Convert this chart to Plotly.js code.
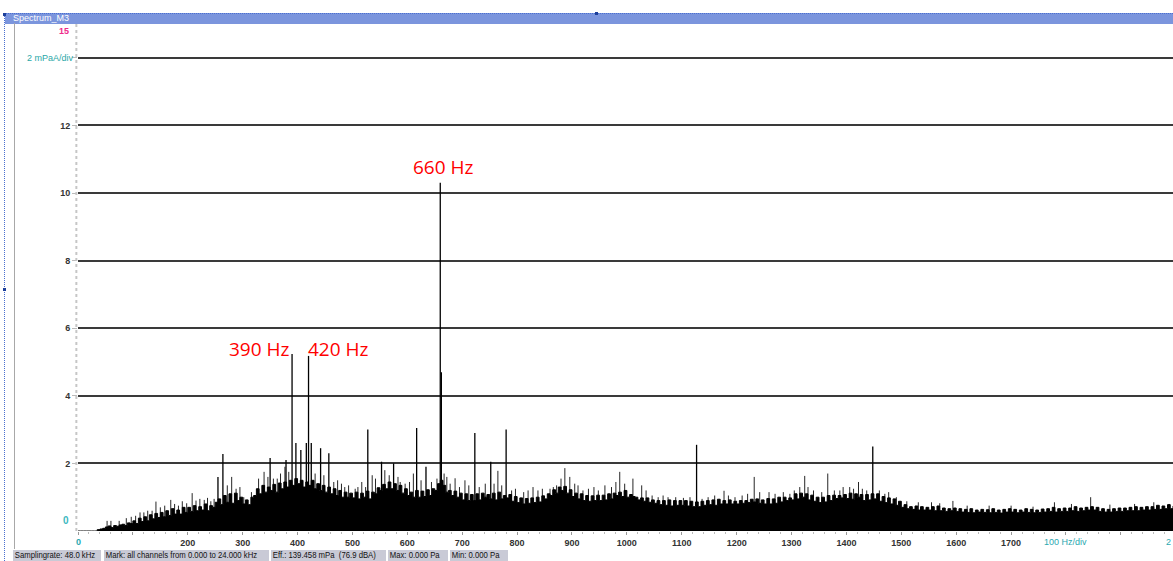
<!DOCTYPE html>
<html>
<head>
<meta charset="utf-8">
<script src="https://cdn.plot.ly/plotly-3.0.1.min.js"></script>
<style>
  html, body { margin: 0; padding: 0; background: #fff; width: 1173px; height: 561px; overflow: hidden; font-family: "Liberation Sans", Arial, sans-serif; }
  #chart { position: absolute; left: 0; top: 0; width: 1173px; height: 561px; }
  #hdr { position: absolute; left: 5px; top: 13px; width: 1168px; height: 10px; background: #7b95dd; border-top: 1px dotted #4a6fd0; }
  #hdr span { position: absolute; left: 8px; top: -1px; font-size: 9px; color: #fff; line-height: 11px; }
  #ldot { position: absolute; left: 4px; top: 13px; width: 0; height: 548px; border-left: 1px dotted #4a6fd0; }
  #lgray { position: absolute; left: 14px; top: 23px; width: 1px; height: 526px; background: #a8a8a8; }
  .sq { position: absolute; width: 3px; height: 3px; background: #1d3f9a; }
  .sb { position: absolute; top: 550px; height: 11px; background: #c9cad6; font-size: 9px; line-height: 11px; color: #111; white-space: nowrap; overflow: hidden; }
  .sb span { display: inline-block; transform: scaleX(0.86); transform-origin: 0 0; padding-left: 2px; }
</style>
</head>
<body>
<div id="chart"></div>
<div id="ldot"></div>
<div id="hdr"><span>Spectrum_M3</span></div>
<div id="lgray"></div>
<div class="sq" style="left:3px;top:13px"></div>
<div class="sq" style="left:595px;top:12px"></div>
<div class="sq" style="left:3px;top:288px"></div>
<div class="sb" style="left:13px;width:88px"><span>Samplingrate: 48.0 kHz</span></div>
<div class="sb" style="left:104px;width:165px"><span>Mark: all channels from 0.000 to 24.000 kHz</span></div>
<div class="sb" style="left:271px;width:115px"><span>Eff.: 139.458 mPa&nbsp; (76.9 dBA)</span></div>
<div class="sb" style="left:388px;width:60px"><span>Max: 0.000 Pa</span></div>
<div class="sb" style="left:450px;width:58px"><span>Min: 0.000 Pa</span></div>
<script>
// Broadband spectrum level (mPa), one value per 5 Hz bin starting at 0 Hz
const binHz = 5;
const spectrum = [
  0, 0, 0, 0, 0, 0, 0, 0.04, 0.06, 0.08,
  0.12, 0.15, 0.1, 0.16, 0.14, 0.18, 0.2, 0.16, 0.24, 0.22,
  0.3, 0.22, 0.38, 0.28, 0.42, 0.3, 0.48, 0.36, 0.52, 0.4,
  0.55, 0.42, 0.6, 0.46, 0.66, 0.5, 0.62, 0.5, 0.7, 0.55,
  0.7, 0.58, 0.75, 0.6, 0.72, 0.62, 0.8, 0.6, 0.75, 0.7,
  0.85, 0.95, 0.78, 1.05, 0.85, 1.1, 0.82, 1.12, 0.9, 1.0,
  0.8, 0.92, 0.78, 1.0, 1.05, 1.25, 1.1, 1.35, 1.15, 1.3,
  1.2, 1.38, 1.15, 1.42, 1.25, 1.45, 1.3, 1.5, 1.35, 1.55,
  1.4, 1.5, 1.3, 1.45, 1.35, 1.5, 1.25, 1.4, 1.2, 1.35,
  1.15, 1.3, 1.1, 1.25, 1.05, 1.2, 1.0, 1.15, 1.0, 1.12,
  0.98, 1.15, 0.95, 1.12, 1.0, 1.18, 0.95, 1.15, 1.1, 1.28,
  1.2, 1.38, 1.25, 1.45, 1.25, 1.4, 1.2, 1.35, 1.12, 1.25,
  1.05, 1.15, 1.0, 1.2, 1.0, 1.18, 1.02, 1.22, 1.05, 1.25,
  1.2, 1.4, 1.5, 1.35, 1.15, 1.2, 1.05, 1.18, 1.0, 1.12,
  0.92, 1.1, 0.9, 1.08, 0.9, 1.1, 0.92, 1.12, 1.0, 1.08,
  0.95, 1.12, 0.92, 1.15, 0.95, 1.05, 0.98, 1.08, 0.88, 1.02,
  0.84, 0.98, 0.8, 0.96, 0.82, 0.98, 0.84, 1.0, 0.86, 1.04,
  0.95, 1.1, 1.05, 1.22, 1.12, 1.3, 1.2, 1.32, 1.12, 1.22,
  1.02, 1.12, 0.95, 1.1, 0.9, 1.05, 0.88, 1.04, 0.9, 1.06,
  0.9, 1.06, 0.92, 1.1, 0.95, 1.12, 1.05, 1.15, 1.02, 1.2,
  1.0, 1.08, 1.02, 1.0, 0.92, 0.98, 0.88, 0.98, 0.85, 0.92,
  0.82, 0.9, 0.78, 0.9, 0.76, 0.92, 0.74, 0.9, 0.76, 0.9,
  0.76, 0.9, 0.74, 0.88, 0.72, 0.86, 0.72, 0.88, 0.76, 0.9,
  0.78, 0.92, 0.76, 0.94, 0.8, 0.9, 0.8, 0.92, 0.8, 0.88,
  0.8, 0.9, 0.82, 0.9, 0.84, 0.94, 0.86, 0.95, 0.82, 0.92,
  0.8, 0.96, 0.8, 0.95, 0.82, 1.0, 0.86, 1.0, 0.9, 0.98,
  0.92, 1.1, 0.95, 1.12, 1.0, 1.1, 0.92, 1.06, 0.88, 1.0,
  0.84, 1.0, 0.86, 1.05, 0.9, 1.06, 0.96, 1.05, 0.98, 1.08,
  0.96, 1.12, 0.94, 1.1, 1.0, 1.08, 0.9, 1.08, 0.92, 1.1,
  0.95, 1.1, 0.88, 1.02, 0.84, 0.98, 0.8, 0.95, 0.76, 0.88,
  0.7, 0.78, 0.66, 0.72, 0.64, 0.74, 0.62, 0.72, 0.62, 0.7,
  0.62, 0.72, 0.6, 0.74, 0.6, 0.68, 0.58, 0.66, 0.6, 0.68,
  0.58, 0.66, 0.56, 0.64, 0.55, 0.66, 0.54, 0.62, 0.56, 0.64,
  0.55, 0.63, 0.54, 0.66, 0.55, 0.62, 0.53, 0.64, 0.56, 0.66,
  0.56, 0.64, 0.54, 0.62, 0.56, 0.66, 0.55, 0.64, 0.54, 0.62,
  0.55, 0.65, 0.56, 0.66, 0.58, 0.7, 0.56, 0.66, 0.58, 0.68,
  0.58, 0.68, 0.6, 0.72, 0.58, 0.68, 0.6, 0.7, 0.62, 0.72,
  0.62, 0.7, 0.58, 0.66, 0.56, 0.64, 0.56, 0.66, 0.58, 0.68,
  0.58, 0.68, 0.6, 0.7, 0.6, 0.72, 0.6, 0.7, 0.62, 0.72,
  0.62, 0.72, 0.64, 0.76, 0.64, 0.74, 0.66, 0.78, 0.66, 0.74
];
// Small narrow-band spikes (Hz, mPa)
const grassFreq = [53, 60, 75, 88, 97, 105, 113, 120, 127, 135, 142, 150, 158, 169, 176, 183, 190, 198,
  208, 215, 222, 230, 236, 242, 248, 272, 280, 288, 295, 302, 316, 329, 339, 346, 356, 363, 369, 377, 384,
  432, 448, 466, 473, 480, 486, 493, 505, 510, 517, 524, 536, 542, 559, 567, 583, 587, 596, 604, 611, 625,
  644, 654, 667, 672, 678, 687, 695, 705, 712, 731, 742, 758, 765, 772, 790, 797, 812, 820, 829, 838, 846,
  860, 866, 872, 880, 887, 896, 905, 911, 920, 930, 940, 948, 960, 972, 980, 987, 996, 1011, 1027, 1035,
  1046, 1057, 1066, 1075, 1089, 1103, 1115, 1137, 1148, 1160, 1177, 1185, 1197, 1210, 1220, 1232, 1242,
  1259, 1270, 1285, 1297, 1305, 1315, 1324, 1330, 1340, 1355, 1366, 1378, 1388, 1394, 1406, 1413, 1422,
  1429, 1437, 1460, 1470, 1477, 1491, 1510, 1531, 1555, 1570, 1594, 1620, 1660, 1700, 1740, 1779, 1810,
  1845, 1880, 1925, 1960, 1988];
const grassVal = [0.3, 0.3, 0.3, 0.38, 0.42, 0.45, 0.55, 0.55, 0.6, 0.6, 0.87, 0.7, 0.75, 0.92, 0.8, 0.75, 0.88, 0.82,
  1.12, 0.9, 0.95, 0.92, 0.98, 0.88, 0.95, 1.35, 1.6, 1.25, 1.3, 1.0, 1.15, 1.55, 1.75, 1.6, 1.55, 1.55, 1.7, 1.9, 1.75,
  1.7, 1.65, 1.45, 1.5, 1.4, 1.3, 1.35, 1.25, 1.3, 1.45, 1.3, 1.65, 1.55, 1.8, 1.65, 1.6, 1.45, 1.4, 1.45, 1.7, 1.5,
  1.45, 1.55, 1.7, 1.6, 1.4, 1.56, 1.3, 1.5, 1.35, 1.3, 1.4, 1.4, 1.78, 1.35, 1.2, 1.25, 1.15, 1.2, 1.3, 1.2, 1.25,
  1.25, 1.3, 1.35, 1.55, 1.86, 1.6, 1.4, 1.35, 1.2, 1.25, 1.3, 1.2, 1.35, 1.3, 1.45, 1.75, 1.4, 1.55, 1.35, 1.2,
  1.05, 1.0, 1.05, 1.0, 1.0, 0.98, 1.0, 0.95, 1.0, 1.05, 1.19, 1.05, 1.0, 1.05, 1.1, 1.6, 1.15,
  1.15, 1.1, 1.15, 1.1, 1.2, 1.3, 1.63, 1.3, 1.2, 1.15, 1.7, 1.2, 1.2, 1.3, 1.3, 1.25, 1.45,
  1.25, 1.2, 1.2, 1.1, 1.15, 1.0, 0.88, 0.85, 0.85, 0.82, 0.89, 0.75, 0.75, 0.75, 0.72, 0.85, 0.8,
  1.0, 0.78, 0.8, 0.85, 0.8];
// Tonal peaks (Hz, mPa)
const peakFreq = [255, 264, 350, 379, 390, 397, 406, 416, 420, 425, 442, 457, 528, 553, 575, 617, 634, 660, 662, 723, 752, 780, 1127, 1448];
const peakVal  = [1.6, 2.28, 2.16, 2.1, 5.24, 2.6, 2.4, 2.6, 5.18, 2.6, 2.45, 2.3, 3.0, 2.05, 2.0, 3.05, 1.9, 10.3, 4.7, 2.9, 2.05, 3.0, 2.55, 2.5];
// Annotated peaks
const labelText = ['660 Hz', '390 Hz', '420 Hz'];
// Axis ticks
const yTickVals = [2, 4, 6, 8, 10, 12, 14];
const yTickText = ['2', '4', '6', '8', '10', '12', ''];
const xTickVals = [0, 100, 200, 300, 400, 500, 600, 700, 800, 900, 1000, 1100, 1200, 1300, 1400, 1500, 1600, 1700, 1800, 1900];
const xTickText = ['', '', '200', '300', '400', '500', '600', '700', '800', '900', '1000', '1100', '1200', '1300', '1400', '1500', '1600', '1700', '', ''];

const freqs = spectrum.map((_, i) => i * binHz);
function stems(fs, vs) {
  const x = [], y = [];
  fs.forEach((f, i) => { x.push(f, f, null); y.push(0, vs[i], null); });
  return { x, y };
}
const g = stems(grassFreq, grassVal);
const p = stems(peakFreq, peakVal);

const traces = [
  { x: g.x, y: g.y, type: 'scatter', mode: 'lines', line: { color: '#262626', width: 1 },
    connectgaps: false, hoverinfo: 'skip' },
  { x: freqs, y: spectrum, type: 'scatter', mode: 'lines', fill: 'tozeroy',
    fillcolor: '#000', line: { color: '#000', width: 1, shape: 'hv' }, hoverinfo: 'skip' },
  { x: p.x, y: p.y, type: 'scatter', mode: 'lines', line: { color: '#000', width: 1.3 },
    connectgaps: false, hoverinfo: 'skip' }
];

const tickFont = { family: 'Liberation Sans, Arial, sans-serif', size: 9, color: '#333', weight: 'bold' };
const layout = {
  width: 1173, height: 561,
  margin: { l: 78, r: 0, t: 24, b: 30 },
  paper_bgcolor: 'rgba(0,0,0,0)', plot_bgcolor: '#fff',
  showlegend: false,
  xaxis: {
    range: [0, 1995], tickmode: 'array', tickvals: xTickVals, ticktext: xTickText,
    ticks: 'outside', ticklen: 3, tickcolor: '#999', tickfont: tickFont,
    showgrid: false, zeroline: false, showline: false, fixedrange: true,
    minor: { dtick: 20, ticks: 'outside', ticklen: 2, tickcolor: '#bbb' }
  },
  yaxis: {
    range: [0, 15], tickmode: 'array', tickvals: yTickVals, ticktext: yTickText,
    ticks: 'outside', ticklen: 5, tickcolor: '#bbb', tickfont: tickFont,
    showgrid: true, gridcolor: '#3a3a3a', gridwidth: 2, zeroline: false, showline: false, fixedrange: true
  },
  shapes: [
    { type: 'line', xref: 'paper', yref: 'paper', x0: -0.0015, x1: -0.0015, y0: 0, y1: 1,
      line: { color: '#c6c6c6', width: 2, dash: 'dot' }, layer: 'above' }
  ],
  annotations: [
    { x: 665, y: 10.77, xref: 'x', yref: 'y', text: labelText[0], showarrow: false,
      font: { family: 'Open Sans, sans-serif', size: 19, color: '#ff0000' } },
    { x: 331, y: 5.38, xref: 'x', yref: 'y', text: labelText[1], showarrow: false,
      font: { family: 'Open Sans, sans-serif', size: 19, color: '#ff0000' } },
    { x: 474, y: 5.38, xref: 'x', yref: 'y', text: labelText[2], showarrow: false,
      font: { family: 'Open Sans, sans-serif', size: 19, color: '#ff0000' } },
    { x: -0.006, y: 15, xref: 'paper', yref: 'y', xanchor: 'right', yanchor: 'top', text: '15', showarrow: false,
      font: { family: 'Liberation Sans, Arial', size: 9, color: '#ee2a8a', weight: 'bold' } },
    { x: -0.002, y: 14, xref: 'paper', yref: 'y', xanchor: 'right', yanchor: 'middle', text: '2 mPaA/div', showarrow: false,
      font: { family: 'Liberation Sans, Arial', size: 9, color: '#2aa8a8' } },
    { x: -0.006, y: 0, xref: 'paper', yref: 'y', xanchor: 'right', yanchor: 'bottom', yshift: 3, text: '0', showarrow: false,
      font: { family: 'Liberation Sans, Arial', size: 10, color: '#3bb8c0', weight: 'bold' } },
    { x: 0, y: 0, xref: 'x', yref: 'paper', yanchor: 'top', yshift: -4, text: '0', showarrow: false,
      font: { family: 'Liberation Sans, Arial', size: 9, color: '#2aa8b0', weight: 'bold' } },
    { x: 1800, y: 0, xref: 'x', yref: 'paper', yanchor: 'top', yshift: -4, text: '100 Hz/div', showarrow: false,
      font: { family: 'Liberation Sans, Arial', size: 9, color: '#2aa8b0' } },
    { x: 1, y: 0, xref: 'paper', yref: 'paper', xanchor: 'right', yanchor: 'top', yshift: -4, text: '2', showarrow: false,
      font: { family: 'Liberation Sans, Arial', size: 9, color: '#2aa8b0' } }
  ]
};

Plotly.newPlot('chart', traces, layout, { staticPlot: true, displayModeBar: false });
</script>
</body>
</html>
